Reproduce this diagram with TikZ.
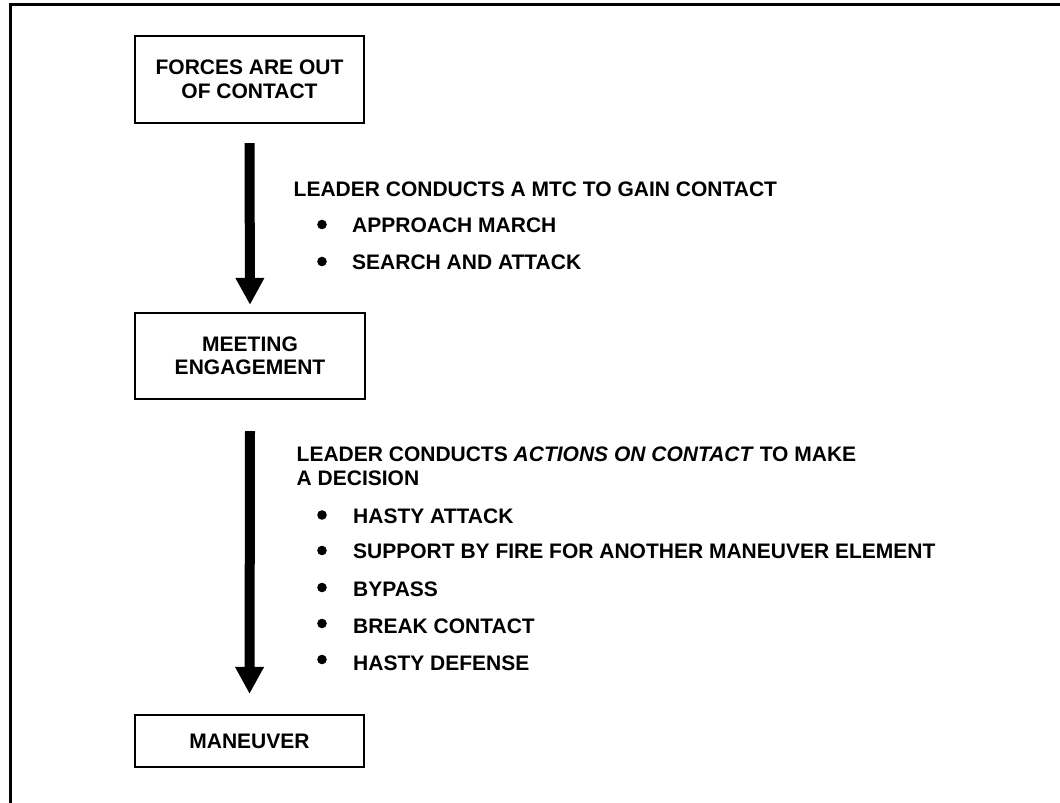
\documentclass[tikz,border=0pt]{standalone}
\usepackage{fontspec}
\setmainfont{Liberation Sans}
\usetikzlibrary{arrows.meta}
\begin{document}
\begin{tikzpicture}[x=1pt,y=-1pt,
  box/.style={draw,line width=2.2pt,align=center,inner sep=0pt,font=\fontsize{21}{23.5}\selectfont\bfseries},
  txt/.style={anchor=base west,inner sep=0pt,font=\fontsize{21}{24}\selectfont\bfseries},
  bigarrow/.style={line width=10pt,-{Triangle[width=27pt,length=27pt]}},
  frameline/.style={line width=3pt},
  bullet/.style={fill=black}]
\useasboundingbox (0,0) rectangle (1060,803);
\draw[frameline] (10.5,803) -- (10.5,4.5) -- (1060,4.5);

\node[box,minimum width=229pt,minimum height=87pt] (b1) at (249.5,79.5) {FORCES ARE OUT\\OF CONTACT};
\node[box,minimum width=230pt,minimum height=86pt] (b2) at (250,356) {MEETING\\ENGAGEMENT};
\node[box,minimum width=229pt,minimum height=52pt] (b3) at (249.5,741) {MANEUVER};

\draw[bigarrow] ([yshift=-19pt]b1.south) -- ([yshift=7pt]b2.north);
\draw[bigarrow] ([yshift=-31pt]b2.south) -- ([yshift=20pt]b3.north);

\node[txt] (h1) at (293.5,196) {LEADER CONDUCTS A MTC TO GAIN CONTACT};
\node[txt] (i1) at (352,232) {APPROACH MARCH};
\node[txt] (i2) at (352,269) {SEARCH AND ATTACK};
\fill[bullet] (322,224.5) circle (4.8pt);
\fill[bullet] (322,261.5) circle (4.8pt);

\node[txt] (h2a) at (296.5,461) {LEADER CONDUCTS \textit{ACTIONS ON CONTACT} TO MAKE};
\node[txt] (h2b) at (296.5,485) {A DECISION};
\node[txt] (j1) at (353,523) {HASTY ATTACK};
\node[txt] (j2) at (353,558.5) {SUPPORT BY FIRE FOR ANOTHER MANEUVER ELEMENT};
\node[txt] (j3) at (353,596) {BYPASS};
\node[txt] (j4) at (353,633) {BREAK CONTACT};
\node[txt] (j5) at (353,670) {HASTY DEFENSE};
\fill[bullet] (322,515) circle (4.8pt);
\fill[bullet] (322,550.5) circle (4.8pt);
\fill[bullet] (322,587.5) circle (4.8pt);
\fill[bullet] (322,623.5) circle (4.8pt);
\fill[bullet] (322,659.5) circle (4.8pt);
\end{tikzpicture}
\end{document}
